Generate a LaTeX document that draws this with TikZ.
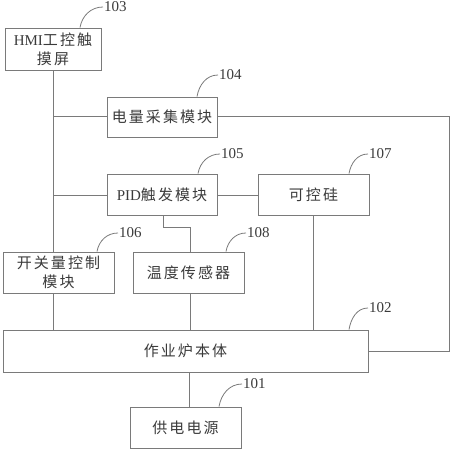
\documentclass[tikz,border=0pt]{standalone}
\usepackage{fontspec}
\setmainfont{Liberation Serif}
\newfontfamily\cjk[LetterSpace=14]{Noto Sans CJK SC}
\definecolor{linegray}{HTML}{7A7A7A}
\definecolor{textgray}{HTML}{3A3A3A}
\tikzset{
  box/.style={draw=linegray, line width=0.9pt, inner sep=0pt, text=textgray,
    font=\fontsize{15}{19}\selectfont, align=center},
  wire/.style={draw=linegray, line width=0.9pt},
  numlabel/.style={anchor=west, inner sep=1pt, text=textgray, font=\fontsize{15}{16}\selectfont},
  lead/.style={draw=linegray, line width=0.8pt, out=80, in=180}
}
\begin{document}
\begin{tikzpicture}[x=1pt,y=-1pt]
\useasboundingbox (0,0) rectangle (451,450);
% boxes
\node[box, minimum width=96pt, minimum height=42pt] (hmi) at (53,49) {HMI{\cjk 工控触}\\{\cjk 摸屏}};
\node[box, minimum width=110pt, minimum height=40pt] (elec) at (162,117) {\cjk 电量采集模块};
\node[box, minimum width=110pt, minimum height=41pt] (pid) at (162,194.5) {PID{\cjk 触发模块}};
\node[box, minimum width=111pt, minimum height=41pt] (scr) at (313.5,194.5) {\cjk 可控硅};
\node[box, minimum width=111pt, minimum height=41pt] (sw) at (58.5,272.5) {{\cjk 开关量控制}\\{\cjk 模块}};
\node[box, minimum width=111pt, minimum height=41pt] (temp) at (188.5,272.5) {\cjk 温度传感器};
\node[box, minimum width=365pt, minimum height=42pt] (furn) at (185.5,351) {\cjk 作业炉本体};
\node[box, minimum width=111pt, minimum height=41pt] (pow) at (185.5,427.5) {\cjk 供电电源};
% bus coordinates
\coordinate (b1) at (53,116);
\coordinate (b2) at (53,195);
\coordinate (r1) at (449,116);
\coordinate (r2) at (449,351);
\coordinate (k1) at (163,227);
\coordinate (k2) at (190,227);
% connectors
\draw[wire] (hmi.south -| b1) -- (sw.north -| b1);
\draw[wire] (b1) -- (elec.west |- b1);
\draw[wire] (b2) -- (pid.west |- b2);
\draw[wire] (sw.south -| b1) -- (furn.north -| b1);
\draw[wire] (elec.east |- r1) -- (r1) -- (r2) -- (furn.east |- r2);
\draw[wire] (pid.east |- b2) -- (scr.west |- b2);
\draw[wire] (scr.south -| 313,0) -- (furn.north -| 313,0);
\draw[wire] (pid.south -| k1) -- (k1) -- (k2) -- (temp.north -| k2);
\draw[wire] (temp.south -| k2) -- (furn.north -| k2);
\draw[wire] (furn.south -| 189,0) -- (pow.north -| 189,0);
% labels
\node[numlabel] (l103) at (103,7) {103};
\node[numlabel] (l104) at (218,75) {104};
\node[numlabel] (l105) at (220,154) {105};
\node[numlabel] (l106) at (118,233) {106};
\node[numlabel] (l107) at (368,154) {107};
\node[numlabel] (l108) at (246,233) {108};
\node[numlabel] (l102) at (368,308) {102};
\node[numlabel] (l101) at (242,384) {101};
\draw[lead] (hmi.north -| 80,0) to (l103.west);
\draw[lead] (elec.north -| 197,0) to (l104.west);
\draw[lead] (pid.north -| 198,0) to (l105.west);
\draw[lead] (sw.north -| 97,0) to (l106.west);
\draw[lead] (scr.north -| 349,0) to (l107.west);
\draw[lead] (temp.north -| 226,0) to (l108.west);
\draw[lead] (furn.north -| 349,0) to (l102.west);
\draw[lead] (pow.north -| 219,0) to (l101.west);
\end{tikzpicture}
\end{document}
